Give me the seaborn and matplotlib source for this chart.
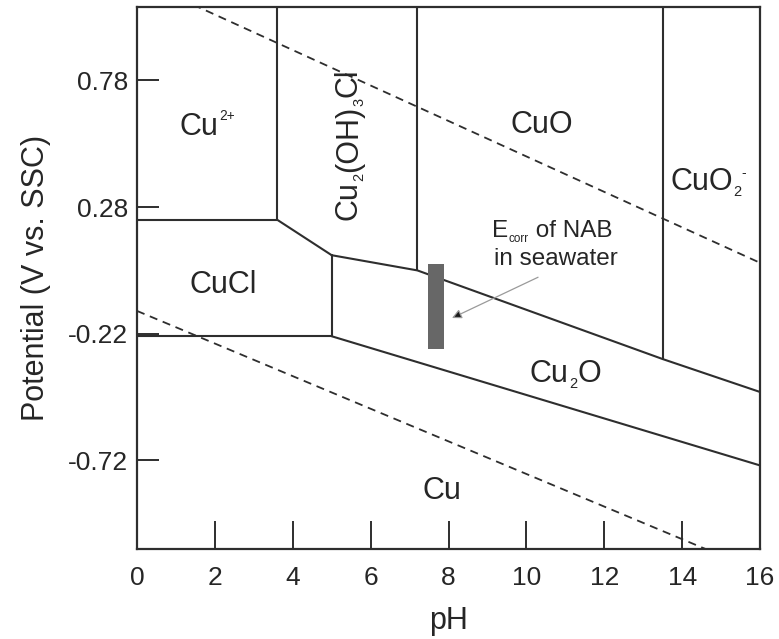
import matplotlib
matplotlib.use("Agg")
import matplotlib.pyplot as plt
import seaborn as sns

# Phase boundaries of the Cu-Cl-H2O system: pH and potential (V vs. SSC)
cu2_cucl_ph = [0.0, 3.6]
cu2_cucl_v = [0.23, 0.23]
cu2_hydroxy_ph = [3.6, 3.6]
cu2_hydroxy_v = [1.07, 0.23]
cucl_hydroxy_ph = [3.6, 5.0]
cucl_hydroxy_v = [0.23, 0.09]
cucl_cu2o_ph = [5.0, 5.0]
cucl_cu2o_v = [0.09, -0.23]
cucl_cu_ph = [0.0, 5.0]
cucl_cu_v = [-0.23, -0.23]
hydroxy_cuo_ph = [7.2, 7.2]
hydroxy_cuo_v = [1.07, 0.03]
cu2o_top_ph = [5.0, 7.2, 13.5, 16.0]
cu2o_top_v = [0.09, 0.03, -0.32, -0.45]
cuo_cuo2_ph = [13.5, 13.5]
cuo_cuo2_v = [1.07, -0.32]
cu2o_cu_ph = [5.0, 16.0]
cu2o_cu_v = [-0.23, -0.74]

# Water stability limits (O2 evolution and H2 evolution)
o2_ph = [0.0, 16.0]
o2_v = [1.18, 0.06]
h2_ph = [0.0, 16.0]
h2_v = [-0.13, -1.16]

# Corrosion potential range of NAB in seawater
ecorr_ph = [7.47, 7.89]
ecorr_v = [-0.28, 0.055]

# Stability-field names as (text, level) pieces: n = normal, b = subscript, p = superscript
region_parts = [
    [("Cu", "n"), ("2+", "p")],
    [("CuO", "n")],
    [("CuO", "n"), ("2", "b"), ("-", "p2")],
    [("CuCl", "n")],
    [("Cu", "n"), ("2", "b"), ("O", "n")],
    [("Cu", "n")],
]
region_ph = [1.10, 9.58, 13.69, 1.36, 10.09, 7.33]
region_v = [0.564, 0.572, 0.347, -0.059, -0.411, -0.873]

hydroxy_parts = [("Cu", "n"), ("2", "b"), ("(OH)", "n"), ("3", "b"), ("Cl", "n")]
hydroxy_ph = 5.65
hydroxy_v = 0.228

x_ticks = [0, 2, 4, 6, 8, 10, 12, 14, 16]
y_ticks = [0.78, 0.28, -0.22, -0.72]
y_tick_labels = ["0.78", "0.28", "-0.22", "-0.72"]

sns.set_theme(style="white")
plt.rcParams["font.family"] = ["Liberation Sans", "DejaVu Sans"]

INK = "#2e2e2e"
TXT = "#262626"
SIZE = 22

fig = plt.figure(figsize=(7.79, 6.39), dpi=100)
ax = fig.add_axes([137 / 779, 1 - 549 / 639, (760 - 137) / 779, (549 - 7) / 639])
ax.set_xlim(0, 16)
ax.set_ylim(-1.07, 1.07)


def piece_style(level, size):
    """Font size and baseline shift (points) of one piece of a formula."""
    if level == "b":
        return size * 0.48, -size * 0.2
    if level == "p":
        return size * 0.45, size * 0.5
    if level == "p2":
        return size * 0.45, size * 0.42
    return size, 0.0


def chem_label(x, y, parts, size, rotated=False):
    """Write a formula piece by piece, starting at its left baseline point (x, y)."""
    kw = dict(color=TXT, ha="left", va="baseline")
    if rotated:
        kw.update(rotation=90, rotation_mode="anchor")
    prev = ax.text(x, y, parts[0][0], fontsize=size, **kw)
    for text, level in parts[1:]:
        fs, shift = piece_style(level, size)
        if rotated:
            prev = ax.annotate(text, xy=(x, 1), xycoords=("data", prev),
                               xytext=(-shift, 0.3), textcoords="offset points",
                               fontsize=fs, **kw)
        else:
            prev = ax.annotate(text, xy=(1, y), xycoords=(prev, "data"),
                               xytext=(0.3, shift), textcoords="offset points",
                               fontsize=fs, **kw)


solid = [
    (cu2_cucl_ph, cu2_cucl_v),
    (cu2_hydroxy_ph, cu2_hydroxy_v),
    (cucl_hydroxy_ph, cucl_hydroxy_v),
    (cucl_cu2o_ph, cucl_cu2o_v),
    (cucl_cu_ph, cucl_cu_v),
    (hydroxy_cuo_ph, hydroxy_cuo_v),
    (cu2o_top_ph, cu2o_top_v),
    (cuo_cuo2_ph, cuo_cuo2_v),
    (cu2o_cu_ph, cu2o_cu_v),
]
for xs, ys in solid:
    sns.lineplot(x=xs, y=ys, ax=ax, color=INK, lw=1.5, sort=False,
                 estimator=None, solid_capstyle="round")

for xs, ys in [(o2_ph, o2_v), (h2_ph, h2_v)]:
    sns.lineplot(x=xs, y=ys, ax=ax, color=INK, lw=1.3, sort=False,
                 estimator=None, linestyle=(0, (4.5, 3.2)))

# E_corr bar
ax.fill_between(ecorr_ph, ecorr_v[0], ecorr_v[1], color="#676767", lw=0, zorder=3)

ax.annotate("", xy=(8.09, -0.158), xytext=(10.30, 0.003),
            arrowprops=dict(arrowstyle="-|>", ec="#9a9a9a", fc="#1a1a1a",
                            lw=0.9, mutation_scale=14, shrinkA=0, shrinkB=0))
chem_label(9.12, 0.161, [("E", "n"), ("corr", "b"), (" of NAB", "n")], 17.5)
ax.text(10.76, 0.051, "in seawater", ha="center", va="baseline",
        fontsize=17.5, color=TXT)

for parts, px, pv in zip(region_parts, region_ph, region_v):
    chem_label(px, pv, parts, SIZE)

chem_label(hydroxy_ph, hydroxy_v, hydroxy_parts, SIZE, rotated=True)

for s in ax.spines.values():
    s.set_color(INK)
    s.set_linewidth(1.6)

ax.set_xticks(x_ticks)
ax.set_yticks(y_ticks)
ax.set_yticklabels(y_tick_labels)
ax.tick_params(axis="x", bottom=True, direction="in", length=20, width=1.4,
               color=INK, labelsize=19, labelcolor=TXT, pad=12)
ax.tick_params(axis="y", left=True, direction="in", length=16, width=1.4,
               color=INK, labelsize=19, labelcolor=TXT, pad=6.5)
ax.set_xlabel("pH", fontsize=22, color=TXT, labelpad=12)
ax.set_ylabel("Potential (V vs. SSC)", fontsize=22, color=TXT, labelpad=12)

fig.savefig("out.png", dpi=100)
